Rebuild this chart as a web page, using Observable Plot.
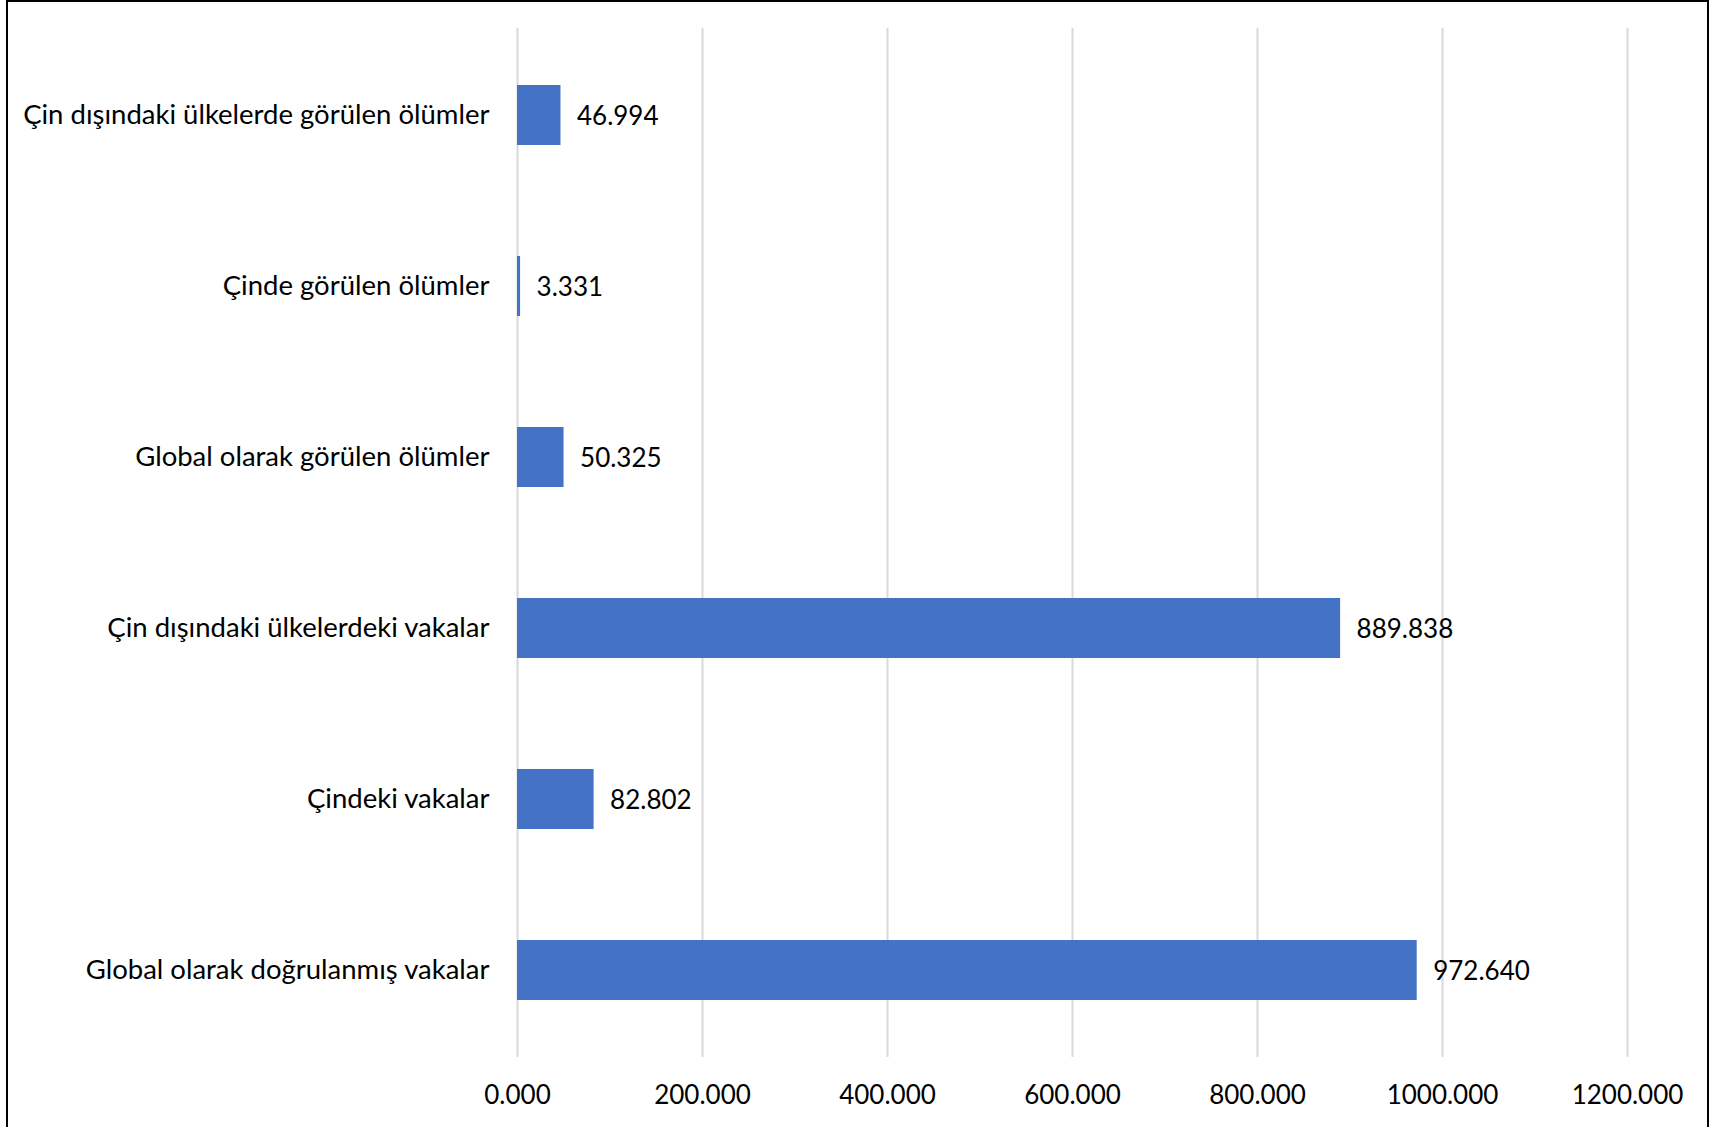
<!DOCTYPE html>
<html>
<head>
<meta charset="utf-8">
<script src="https://cdn.jsdelivr.net/npm/d3@7"></script>
<script src="https://cdn.jsdelivr.net/npm/@observablehq/plot@0.6"></script>
<style>
  html, body { margin: 0; padding: 0; background: #fff; }
  #wrap { position: relative; width: 1716px; height: 1127px; overflow: hidden; }
  #frame { position: absolute; left: 6px; top: 0px; width: 1703px; height: 1200px; border: 2px solid #000; box-sizing: border-box; }
  #chart { position: absolute; left: 0; top: 0; }
</style>
</head>
<body>
<div id="wrap"><div id="frame"></div><div id="chart"></div></div>
<script>
const categories = [
  "Çin dışındaki ülkelerde görülen ölümler",
  "Çinde görülen ölümler",
  "Global olarak görülen ölümler",
  "Çin dışındaki ülkelerdeki vakalar",
  "Çindeki vakalar",
  "Global olarak doğrulanmış vakalar"
];
const values = [46.994, 3.331, 50.325, 889.838, 82.802, 972.640];
const xTicks = [0, 200, 400, 600, 800, 1000, 1200];

const data = categories.map((c, i) => ({category: c, value: values[i]}));
const fmt = d3.format(".3f");
const FONT = 26;

const chart = Plot.plot({
  width: 1716,
  height: 1127,
  marginLeft: 517,
  marginRight: 89,
  marginTop: 28,
  marginBottom: 70,
  style: {fontFamily: "Lato, 'Open Sans', sans-serif", color: "#000", background: "transparent"},
  x: {domain: [0, 1200], ticks: xTicks, tickFormat: fmt},
  y: {domain: categories, paddingInner: 0.65, paddingOuter: 0.325},
  marks: [
    Plot.ruleX(xTicks, {stroke: "#d9d9d9", strokeWidth: 2}),
    Plot.barX(data, {x: "value", y: "category", fill: "#4472C4"}),
    Plot.text(data, {x: "value", y: "category", text: d => fmt(d.value), textAnchor: "start", dx: 16, dy: 1, fontSize: FONT, fill: "#000"}),
    Plot.axisX({ticks: xTicks, tickFormat: fmt, tickSize: 0, tickPadding: 28, fontSize: FONT, label: null}),
    Plot.axisY({tickSize: 0, tickPadding: 28, fontSize: 27.5, label: null})
  ]
});
document.getElementById("chart").appendChild(chart);
</script>
</body>
</html>
